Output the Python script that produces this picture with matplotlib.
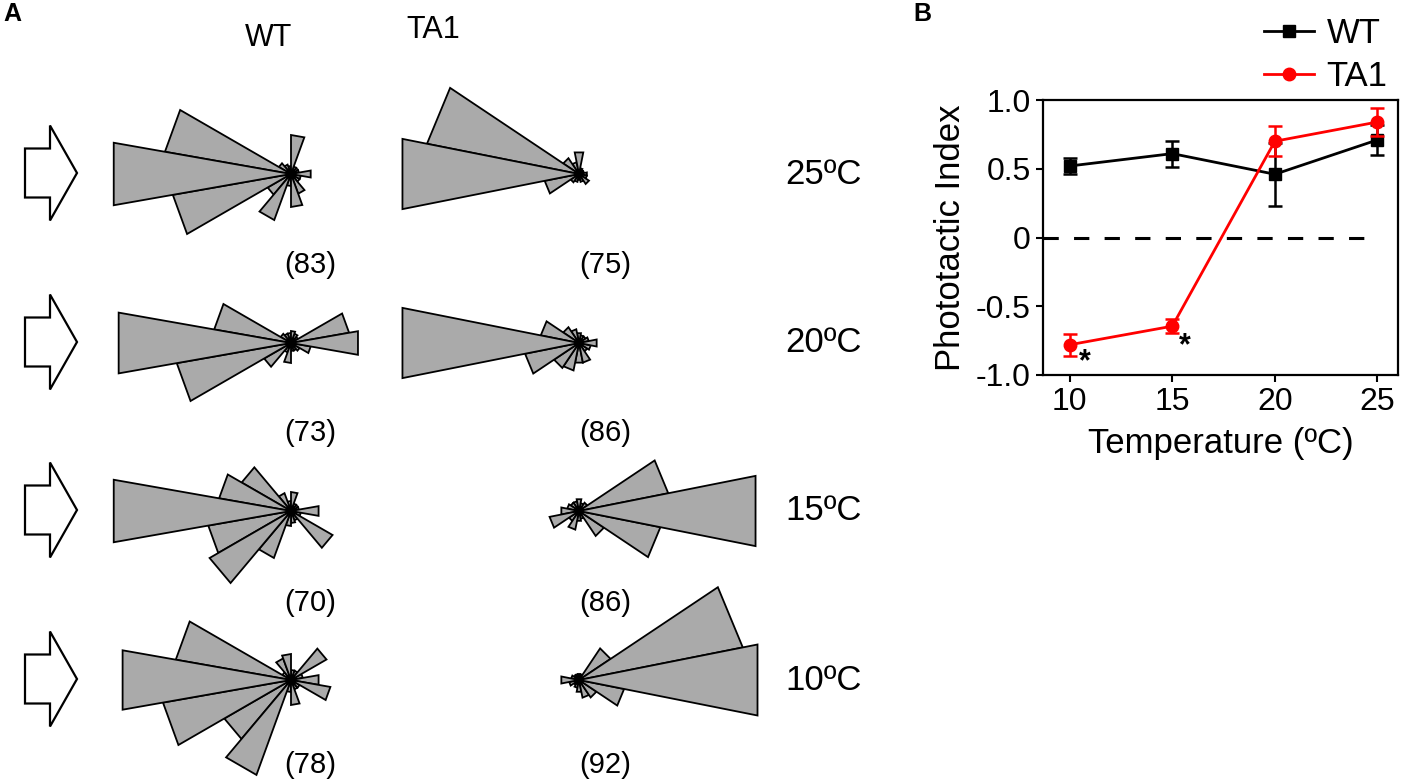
import numpy as np
import matplotlib
matplotlib.use('Agg')
import matplotlib.pyplot as plt
from matplotlib.patches import FancyArrow

plt.rcParams['font.family'] = ['Liberation Sans', 'DejaVu Sans']
plt.rcParams['font.size'] = 21

W, H = 1401, 781

# ---- panel A data: rose wedge lengths (px of full scale)
# WT roses: 18 bins centred on 0, 20, ... 340 deg
# TA1 roses: 16 bins centred on 0, 22.5, ... 337.5 deg
temp_labels = ['25ºC', '20ºC', '15ºC', '10ºC']
wt_rose_25 = [20, 8, 8, 8, 39, 8, 10, 14, 128, 180, 120, 27, 49, 12, 33, 21, 10, 10]
wt_rose_20 = [68, 59, 8, 10, 12, 10, 10, 12, 78, 175, 116, 31, 10, 20, 8, 8, 10, 20]
wt_rose_15 = [28, 8, 8, 8, 19, 10, 19, 57, 73, 180, 84, 94, 50, 15, 12, 10, 48, 10]
wt_rose_10 = [28, 12, 41, 10, 10, 26, 23, 10, 117, 171, 130, 77, 101, 12, 25, 10, 10, 40]
ta1_rose_25 = [8, 5, 5, 6, 22, 12, 19, 155, 180, 35, 10, 8, 6, 8, 12, 8]
ta1_rose_20 = [18, 10, 8, 8, 10, 14, 19, 39, 180, 55, 30, 28, 20, 20, 10, 12]
ta1_rose_15 = [180, 91, 10, 8, 12, 10, 10, 12, 18, 30, 12, 19, 10, 8, 30, 83]
ta1_rose_10 = [182, 167, 38, 6, 6, 6, 6, 8, 18, 10, 6, 8, 12, 18, 21, 46]
wt_n = [83, 73, 70, 78]
ta1_n = [75, 86, 86, 92]

# ---- panel B data
temps = [10, 15, 20, 25]
wt_pi = [0.52, 0.61, 0.46, 0.71]
wt_err = [0.06, 0.095, 0.23, 0.11]
ta1_pi = [-0.78, -0.645, 0.70, 0.84]
ta1_err = [0.08, 0.05, 0.11, 0.105]
star_x = [10.75, 15.6]
star_y = [-0.91, -0.79]


def draw_rose(fig, cx, cy, vals, R=195):
    ax = fig.add_axes([(cx - R) / W, 1 - (cy + R) / H, 2 * R / W, 2 * R / H],
                      projection='polar')
    ax.set_ylim(0, R)
    ax.set_axis_off()
    n = len(vals)
    width = 2 * np.pi / n
    centres = np.arange(n) * width
    for i in np.argsort(vals, kind='stable'):
        t0, t1 = centres[i] - width / 2, centres[i] + width / 2
        ax.fill([0, t0, t1], [0, vals[i], vals[i]], facecolor='#aaaaaa',
                edgecolor='black', lw=1.3, clip_on=False)
    return ax


def main():
    fig = plt.figure(figsize=(W / 100, H / 100), dpi=100)

    # overlay in pixel units for arrows and labels of panel A
    bg = fig.add_axes([0, 0, 1, 1])
    bg.set_xlim(0, W)
    bg.set_ylim(H, 0)
    bg.set_axis_off()

    row_y = [174, 343, 511, 680]
    count_y = [265, 433, 603, 765]
    wt_x, ta1_x = 291, 579
    wt_roses = [wt_rose_25, wt_rose_20, wt_rose_15, wt_rose_10]
    ta1_roses = [ta1_rose_25, ta1_rose_20, ta1_rose_15, ta1_rose_10]

    bg.text(3, 2, 'A', fontsize=18, fontweight='bold', ha='left', va='top')
    bg.text(269, 38, 'WT', ha='center', va='center', fontsize=22)
    bg.text(433, 30, 'TA1', ha='center', va='center', fontsize=22)

    for k in range(4):
        y = row_y[k]
        bg.add_patch(FancyArrow(25, y - 1, 52, 0, width=49, head_width=95,
                                head_length=27, length_includes_head=True,
                                facecolor='white', edgecolor='black', lw=1.6))
        bg.text(785, y, temp_labels[k], ha='left', va='center', fontsize=25)
        bg.text(310, count_y[k], '(%d)' % wt_n[k], ha='center', va='center')
        bg.text(605, count_y[k], '(%d)' % ta1_n[k], ha='center', va='center')
        draw_rose(fig, wt_x, y, wt_roses[k])
        draw_rose(fig, ta1_x, y, ta1_roses[k])

    # panel B
    bg.text(913, 2, 'B', fontsize=18, fontweight='bold', ha='left', va='top')
    ax = fig.add_axes([1043 / W, 1 - 375 / H, 355 / W, 275 / H])
    ax.plot([8.7, 25], [0, 0], color='black', lw=2.2, dashes=(5, 5), zorder=1)
    eb_wt = ax.errorbar(temps, wt_pi, yerr=wt_err, color='black', marker='s',
                        ms=8.5, lw=2, elinewidth=1.8, capsize=5, capthick=1.8,
                        zorder=3)
    eb_ta1 = ax.errorbar(temps, ta1_pi, yerr=ta1_err, color='red', marker='o',
                         ms=9, lw=2, elinewidth=1.8, capsize=5, capthick=1.8,
                         zorder=4)
    for sx, sy in zip(star_x, star_y):
        ax.text(sx, sy, '*', ha='center', va='center', fontsize=22,
                fontweight='bold')
    ax.set_xlim(8.7, 26.0)
    ax.set_ylim(-1.0, 1.0)
    ax.set_xticks(temps)
    ax.set_yticks([-1.0, -0.5, 0, 0.5, 1.0])
    ax.set_yticklabels(['-1.0', '-0.5', '0', '0.5', '1.0'])
    ax.tick_params(direction='out', length=5, width=1.5, labelsize=23, pad=4)
    for s in ax.spines.values():
        s.set_linewidth(1.6)
    ax.set_ylabel('Phototactic Index', fontsize=25, labelpad=6)
    ax.set_xlabel('Temperature (ºC)', fontsize=25, labelpad=7)
    fig.legend([eb_wt[0], eb_ta1[0]], ['WT', 'TA1'], loc='upper right',
               bbox_to_anchor=(1391 / W, 1 - 14 / H), frameon=False,
               fontsize=25, handlelength=1.45, handletextpad=0.35,
               labelspacing=0.28, borderpad=0.1, borderaxespad=0)

    fig.savefig('out.png', dpi=100)


if __name__ == '__main__':
    main()
